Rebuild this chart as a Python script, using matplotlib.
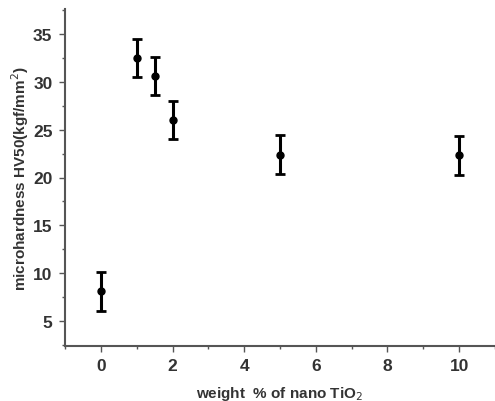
import matplotlib
matplotlib.use("Agg")
import matplotlib.pyplot as plt
from matplotlib.ticker import MultipleLocator

plt.rcParams['font.family'] = ['Liberation Sans', 'DejaVu Sans']

weight_pct = [0, 1, 1.5, 2, 5, 10]
hardness = [8.1, 32.5, 30.6, 26.0, 22.4, 22.3]
hardness_err = [2.0, 2.0, 2.0, 2.0, 2.0, 2.0]
x_ticks = [0, 2, 4, 6, 8, 10]
y_ticks = [5, 10, 15, 20, 25, 30, 35]

fig = plt.figure(figsize=(4.95, 4.02), dpi=100)
ax = fig.add_axes([65/495, 1-347/402, 1-65/495, (347-10)/402])

ax.errorbar(weight_pct, hardness, yerr=hardness_err, fmt='o', color='black',
            ms=5, elinewidth=2.2, capsize=3.5, capthick=2)

ax.set_xlim(-1, 11)
ax.set_ylim(2.4, 37.6)
ax.set_xticks(x_ticks)
ax.set_yticks(y_ticks)
ax.xaxis.set_minor_locator(MultipleLocator(1))
ax.yaxis.set_minor_locator(MultipleLocator(2.5))

for s in ['top', 'right']:
    ax.spines[s].set_visible(False)
for s in ['left', 'bottom']:
    ax.spines[s].set_color('#555555')
    ax.spines[s].set_linewidth(1.5)

ax.tick_params(which='major', direction='out', length=4, width=1, colors='#555555',
               labelcolor='#333333', labelsize=12.5, pad=5)
ax.tick_params(which='minor', direction='out', length=2, width=1, colors='#555555')
for lbl in ax.get_xticklabels() + ax.get_yticklabels():
    lbl.set_fontweight('bold')

ax.set_xlabel('weight  % of nano TiO$_2$', fontsize=11, fontweight='bold', color='#333333')
ax.set_ylabel('microhardness HV50(kgf/mm$^2$)', fontsize=11, fontweight='bold', color='#333333')
ax.xaxis.set_label_coords(0.5, -0.112)
ax.yaxis.set_label_coords(-0.08, 0.5)

fig.savefig('out.png', dpi=100)
